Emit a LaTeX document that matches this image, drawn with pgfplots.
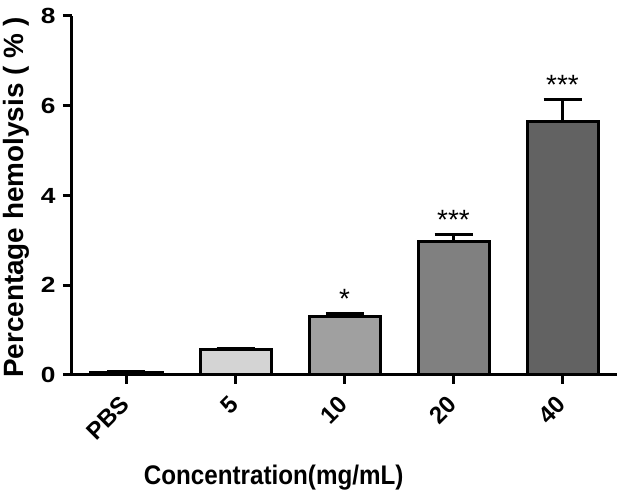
\documentclass[border=0pt]{standalone}
\usepackage{fontspec}
\setmainfont{Liberation Sans}
\usepackage{pgfplots}
\pgfplotsset{compat=1.18}
\usetikzlibrary{calc}
\definecolor{c0}{HTML}{FFFFFF}
\definecolor{c1}{HTML}{D4D4D4}
\definecolor{c2}{HTML}{A0A0A0}
\definecolor{c3}{HTML}{808080}
\definecolor{c4}{HTML}{626262}
\newcommand{\yt}[1]{\scalebox{1.2}[1]{\fontsize{22}{24}\selectfont\bfseries #1}}
\newcommand{\xt}[1]{{\fontsize{24}{26}\selectfont\bfseries #1}}
\begin{document}
\begin{tikzpicture}
\begin{axis}[
  scale only axis, width=545bp, height=359bp,
  xmin=-0.5, xmax=4.5, ymin=0, ymax=8,
  axis x line*=bottom, axis y line*=left,
  axis line style={line width=3bp, black},
  xtick={0,1,2,3,4}, xticklabels={\xt{PBS},\xt{5},\xt{10},\xt{20},\xt{40}},
  ytick={0,2,4,6,8}, yticklabels={\yt{0},\yt{2},\yt{4},\yt{6},\yt{8}},
  tick align=outside, major tick length=9bp,
  tick style={line width=3bp, black},
  yticklabel style={xshift=-4bp},
  xticklabel style={rotate=45, anchor=north east, xshift=-9bp, yshift=1bp},
  ylabel={Percentage hemolysis ( \% )},
  ylabel style={font=\fontsize{28}{30}\selectfont\bfseries, at={(axis description cs:0,0.495)}, anchor=south, yshift=39bp},
  xlabel={\scalebox{0.9}[1]{Concentration(mg/mL)}},
  xlabel style={font=\fontsize{27}{28}\selectfont\bfseries, at={(axis description cs:0.37,0)}, anchor=base, yshift=-110bp},
  ybar, bar width=71bp,
  clip=false,
]
\coordinate (O) at (rel axis cs:0,0);
\coordinate (T) at (rel axis cs:1,1);
\pgfplotsset{errstyle/.style={error bars/.cd, y dir=plus, y explicit,
   error bar style={line width=3bp, black},
   error mark options={rotate=90, line width=3bp, mark size=19bp, black}}}
\addplot[fill=c0, draw=black, line width=3bp, bar shift=0pt, errstyle] coordinates {(0,0.05) +- (0,0.03)};
\addplot[fill=c1, draw=black, line width=3bp, bar shift=0pt, errstyle] coordinates {(1,0.56) +- (0,0.04)};
\addplot[fill=c2, draw=black, line width=3bp, bar shift=0pt, errstyle] coordinates {(2,1.31) +- (0,0.06)};
\addplot[fill=c3, draw=black, line width=3bp, bar shift=0pt, errstyle] coordinates {(3,2.97) +- (0,0.17)};
\addplot[fill=c4, draw=black, line width=3bp, bar shift=0pt, errstyle] coordinates {(4,5.66) +- (0,0.49)};
\addplot[draw=none, fill=none, bar shift=0pt, bar width=0pt, nodes near coords, point meta=explicit symbolic,
  every node near coord/.style={anchor=base, yshift=5bp, font=\fontsize{28}{28}\selectfont}]
  coordinates {(2,1.37) [*] (3,3.14) [***] (4,6.15) [***]};
\end{axis}
\pgfresetboundingbox
\path ($(O)+(-72bp,-128bp)$) rectangle ($(T)+(7bp,16bp)$);
\end{tikzpicture}
\end{document}
